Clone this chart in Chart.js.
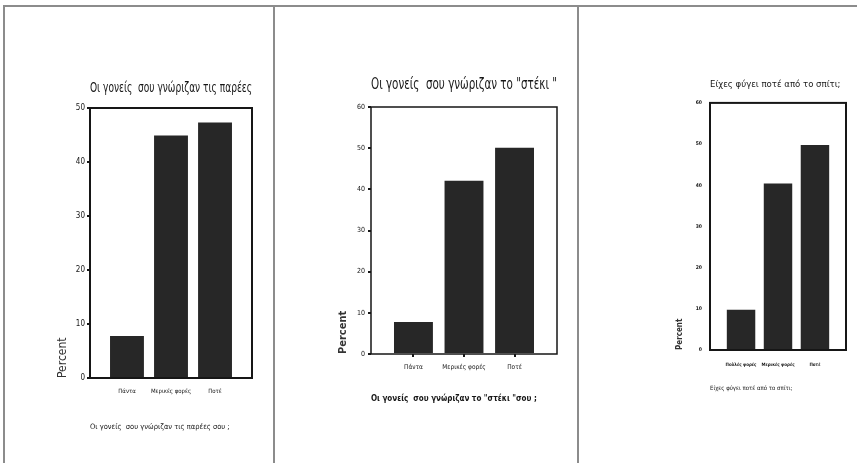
<!DOCTYPE html>
<html>
<head>
<meta charset="utf-8">
<script src="https://cdn.jsdelivr.net/npm/chart.js@4.4.1/dist/chart.umd.min.js"></script>
<style>
  html, body { margin: 0; padding: 0; background: #fff; }
  #page { position: relative; width: 857px; height: 465px; overflow: hidden; background: #fff; }
  canvas { position: absolute; top: 0; }
  .rule { position: absolute; background: #8c8c8c; }
</style>
</head>
<body>
<div id="page">
  <canvas id="chart1" width="274" height="465" style="left:0px"></canvas>
  <canvas id="chart2" width="304" height="465" style="left:274px"></canvas>
  <canvas id="chart3" width="279" height="465" style="left:578px"></canvas>
  <div class="rule" style="left:3px;top:5px;width:854px;height:2px"></div>
  <div class="rule" style="left:3px;top:5px;width:2px;height:458px"></div>
  <div class="rule" style="left:273px;top:5px;width:2px;height:458px"></div>
  <div class="rule" style="left:577px;top:5px;width:2px;height:458px"></div>
</div>
<script>
// data
const labels1 = ['Πάντα', 'Μερικές φορές', 'Ποτέ'];
const values1 = [7.8, 44.9, 47.3];
const yTicks1 = [0, 10, 20, 30, 40, 50];
const title1 = 'Οι γονείς  σου γνώριζαν τις παρέες';
const caption1 = 'Οι γονείς  σου γνώριζαν τις παρέες σου ;';

const labels2 = ['Πάντα', 'Μερικές φορές', 'Ποτέ'];
const values2 = [7.8, 42.1, 50.1];
const yTicks2 = [0, 10, 20, 30, 40, 50, 60];
const title2 = 'Οι γονείς  σου γνώριζαν το "στέκι "';
const caption2 = 'Οι γονείς  σου γνώριζαν το "στέκι "σου ;';

const labels3 = ['Πολλές φορές', 'Μερικές φορές', 'Ποτέ'];
const values3 = [9.8, 40.4, 49.8];
const yTicks3 = [0, 10, 20, 30, 40, 50, 60];
const title3 = 'Είχες φύγει ποτέ από το σπίτι;';
const caption3 = 'Είχες φύγει ποτέ από το σπίτι;';

const FONT = "'Liberation Sans Narrow', 'DejaVu Sans Condensed', 'Arial Narrow', sans-serif";
const INK = '#161616';

// box around the plot area, like the SPSS frame
const framePlugin = {
    id: 'frame',
    afterDatasetsDraw(chart, args, opts) {
        const a = chart.chartArea;
        const ctx = chart.ctx;
        ctx.save();
        ctx.strokeStyle = INK;
        ctx.lineWidth = opts.width || 2;
        ctx.strokeRect(a.left, a.top, a.right - a.left, a.bottom - a.top);
        ctx.restore();
    }
};

function barChart(id, labels, values, yTicks, title, caption, s) {
    const graphData = {
        datasets: [{
            data: values.map((v, i) => ({x: i, y: v})),
            backgroundColor: '#272727',
            borderWidth: 0,
            barPercentage: 0.77,
            categoryPercentage: 1.0
        }]
    };
    const config = {
        type: 'bar',
        data: graphData,
        plugins: [framePlugin],
        options: {
            responsive: false,
            animation: false,
            events: [],
            layout: { padding: s.padding },
            plugins: {
                legend: { display: false },
                tooltip: { enabled: false },
                frame: { width: s.frame },
                title: {
                    display: true,
                    text: title,
                    align: 'start',
                    fullSize: false,
                    color: INK,
                    font: { family: FONT, size: s.titleSize, weight: 'normal' },
                    padding: { top: 0, bottom: s.titleGap }
                }
            },
            scales: {
                x: {
                    type: 'linear',
                    offset: false,
                    min: -0.84,
                    max: labels.length - 1 + 0.84,
                    afterBuildTicks: (scale) => { scale.ticks = labels.map((l, i) => ({value: i})); },
                    afterFit: (scale) => { scale.height = s.xHeight; },
                    grid: { offset: false, drawOnChartArea: false, drawTicks: s.xTicks, tickLength: 3, color: INK, lineWidth: 2 },
                    border: { display: false },
                    ticks: {
                        callback: (v) => labels[v],
                        autoSkip: false,
                        maxRotation: 0,
                        padding: s.xPad,
                        color: INK,
                        font: { family: FONT, size: s.xSize, weight: s.tickWeight }
                    },
                    title: {
                        display: true,
                        text: caption,
                        align: 'start',
                        color: INK,
                        padding: 0,
                        font: { family: FONT, size: s.capSize, weight: s.capWeight }
                    }
                },
                y: {
                    min: 0,
                    max: yTicks[yTicks.length - 1],
                    afterBuildTicks: (scale) => { scale.ticks = yTicks.map(v => ({value: v})); },
                    afterFit: (scale) => { scale.width = s.yWidth; },
                    grid: { drawOnChartArea: false, drawTicks: true, tickLength: s.yTick, color: INK, lineWidth: 2 },
                    border: { display: false },
                    ticks: {
                        padding: s.yPad,
                        color: INK,
                        font: { family: FONT, size: s.ySize, weight: s.tickWeight }
                    },
                    title: {
                        display: true,
                        text: 'Percent',
                        align: 'start',
                        color: '#333',
                        padding: 0,
                        font: { family: FONT, size: s.pctSize, weight: s.pctWeight }
                    }
                }
            }
        }
    };
    const ctx = document.getElementById(id).getContext('2d');
    return new Chart(ctx, config);
}

barChart('chart1', labels1, values1, yTicks1, title1, caption1, {
    padding: { left: 56, right: 22, top: 79.6, bottom: 33 },
    titleSize: 14, titleGap: 11.6,
    yWidth: 34, yTick: 3, yPad: 2, ySize: 8,
    xHeight: 54, xTicks: false, xPad: 10, xSize: 6,
    capSize: 7.5, capWeight: 'normal',
    pctSize: 12, pctWeight: 'normal', tickWeight: 'normal', frame: 2
});

barChart('chart2', labels2, values2, yTicks2, title2, caption2, {
    padding: { left: 62.4, right: 21, top: 75.4, bottom: 61 },
    titleSize: 16, titleGap: 12.4,
    yWidth: 34.6, yTick: 3, yPad: 3, ySize: 7,
    xHeight: 50, xTicks: true, xPad: 6, xSize: 6.5,
    capSize: 8, capWeight: 'bold',
    pctSize: 11, pctWeight: 'bold', tickWeight: 'normal', frame: 1.5
});

barChart('chart3', labels3, values3, yTicks3, title3, caption3, {
    padding: { left: 97.5, right: 11, top: 78.5, bottom: 73 },
    titleSize: 9.5, titleGap: 13,
    yWidth: 34.5, yTick: 0, yPad: 8, ySize: 5,
    xHeight: 42, xTicks: false, xPad: 12, xSize: 4.5,
    capSize: 6, capWeight: 'normal',
    pctSize: 8, pctWeight: 'bold', tickWeight: 'bold', frame: 2
});
</script>
</body>
</html>
